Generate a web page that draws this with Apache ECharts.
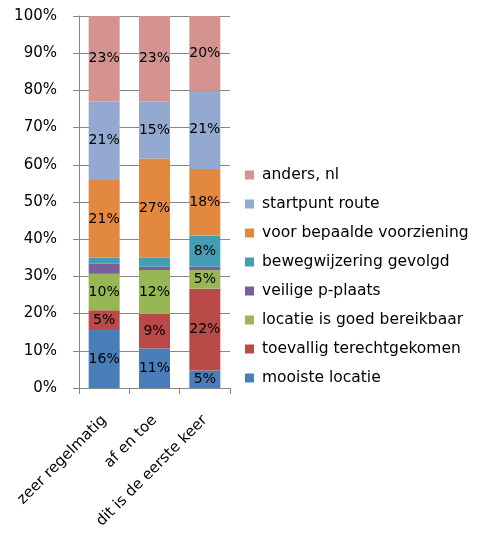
<!DOCTYPE html>
<html>
<head>
<meta charset="utf-8">
<script src="https://cdn.jsdelivr.net/npm/echarts@6/dist/echarts.min.js"></script>
<style>
  html, body { margin: 0; padding: 0; background: #fff; }
  #chart { width: 481px; height: 535px; }
</style>
</head>
<body>
<div id="chart"></div>
<script>
// Categories on the x axis
const categories = ['zeer regelmatig', 'af en toe', 'dit is de eerste keer'];

// Share (%) per answer, one value per category, stacked bottom to top
const mooisteLocatie      = [15.6, 10.6, 4.7];
const toevalligTerecht    = [5.3, 9.3, 22.0];
const locatieBereikbaar   = [9.8, 11.8, 5.0];
const veiligePPlaats      = [2.7, 0.9, 0.9];
const bewegwijzering      = [1.6, 2.4, 8.3];
const bepaaldeVoorziening = [20.9, 26.7, 18.0];
const startpuntRoute      = [21.1, 15.3, 21.0];
const andersNl            = [23.0, 23.0, 20.1];

const seriesNames = [
  'mooiste locatie',
  'toevallig terechtgekomen',
  'locatie is goed bereikbaar',
  'veilige p-plaats',
  'bewegwijzering gevolgd',
  'voor bepaalde voorziening',
  'startpunt route',
  'anders, nl'
];
const seriesValues = [
  mooisteLocatie, toevalligTerecht, locatieBereikbaar, veiligePPlaats,
  bewegwijzering, bepaaldeVoorziening, startpuntRoute, andersNl
];
const seriesColors = [
  '#4A7EBB', '#BA4A47', '#97B655', '#7B5E9D',
  '#439DB5', '#E2893F', '#94A9D0', '#D49291'
];

const yTicks = { min: 0, max: 100, interval: 10 };

const FONT = 'DejaVu Sans';
const AXIS_GREY = '#868686';

const chart = echarts.init(document.getElementById('chart'), null, { renderer: 'canvas' });

const series = seriesNames.map((name, i) => ({
  name: name,
  type: 'bar',
  stack: 'total',
  barWidth: 31,
  data: seriesValues[i],
  itemStyle: { color: seriesColors[i] },
  label: {
    show: true,
    position: 'inside',
    color: '#000',
    fontFamily: FONT,
    fontSize: 14,
    // segments that are too thin carry no label
    formatter: p => (p.value >= 4 ? Math.round(p.value) + '%' : '')
  },
  emphasis: { disabled: true }
}));

chart.setOption({
  backgroundColor: '#fff',
  animation: false,
  grid: { left: 79, top: 16, width: 151, height: 372, containLabel: false },
  legend: {
    orient: 'vertical',
    left: 245,
    top: 167,
    padding: 0,
    itemWidth: 9,
    itemHeight: 9,
    itemGap: 13,
    icon: 'rect',
    data: seriesNames.slice().reverse(),
    textStyle: {
      fontFamily: FONT,
      fontSize: 15.5,
      lineHeight: 15,
      color: '#000',
      padding: [0, 0, 0, 3]
    },
    selectedMode: false
  },
  xAxis: {
    type: 'category',
    data: categories,
    axisLine: { lineStyle: { color: AXIS_GREY, width: 1 } },
    axisTick: { show: true, length: 6, lineStyle: { color: AXIS_GREY } },
    axisLabel: {
      rotate: 45,
      margin: 30,
      fontFamily: FONT,
      fontSize: 15,
      color: '#000',
      interval: 0
    }
  },
  yAxis: {
    type: 'value',
    min: yTicks.min,
    max: yTicks.max,
    interval: yTicks.interval,
    axisLine: { show: true, lineStyle: { color: AXIS_GREY, width: 1 } },
    axisTick: { show: true, length: 6, lineStyle: { color: AXIS_GREY } },
    splitLine: { show: true, lineStyle: { color: AXIS_GREY, width: 1 } },
    axisLabel: {
      formatter: '{value}%',
      margin: 22,
      fontFamily: FONT,
      fontSize: 15,
      color: '#000'
    }
  },
  series: series
});
</script>
</body>
</html>
